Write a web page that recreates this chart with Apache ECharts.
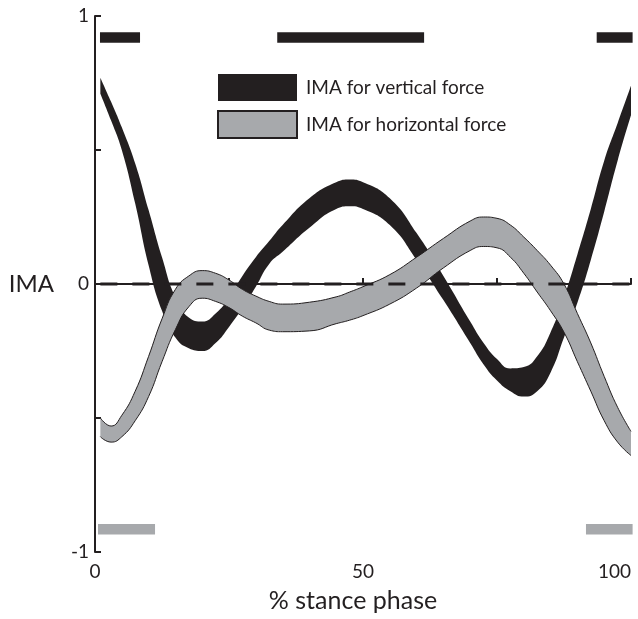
<!DOCTYPE html>
<html>
<head>
<meta charset="utf-8">
<script src="https://cdn.jsdelivr.net/npm/echarts@6/dist/echarts.min.js"></script>
<style>html,body{margin:0;padding:0;background:#fff}#c{width:638px;height:619px}</style>
</head>
<body>
<div id="c"></div>
<script>
// % stance phase sample positions
const stance = [1, 3, 5, 7.5, 10, 12.5, 15, 17.5, 20, 22.5, 25, 27.5, 30, 32.5, 35, 40, 45, 47.5, 50, 55, 60, 65, 70, 72.5, 75, 77.5, 80, 82.5, 85, 87.5, 90, 92.5, 95, 97.5, 100];
// IMA for vertical force: band upper / lower edges
const vertUpper = [0.77, 0.68, 0.585, 0.45, 0.276, 0.10, -0.05, -0.125, -0.14, -0.11, -0.05, 0.03, 0.10, 0.16, 0.22, 0.32, 0.38, 0.39, 0.38, 0.32, 0.19, 0.03, -0.14, -0.22, -0.28, -0.315, -0.31, -0.27, -0.18, -0.05, 0.11, 0.28, 0.46, 0.60, 0.74];
const vertLower = [0.71, 0.61, 0.50, 0.30, 0.07, -0.10, -0.20, -0.24, -0.25, -0.22, -0.16, -0.09, -0.01, 0.075, 0.12, 0.21, 0.28, 0.29, 0.28, 0.22, 0.09, -0.06, -0.22, -0.30, -0.36, -0.40, -0.42, -0.40, -0.33, -0.20, -0.07, 0.09, 0.27, 0.46, 0.63];
// IMA for horizontal force: band upper / lower edges
const horzUpper = [-0.50, -0.53, -0.49, -0.40, -0.27, -0.13, -0.02, 0.03, 0.05, 0.04, 0.015, -0.02, -0.045, -0.065, -0.075, -0.068, -0.048, -0.03, -0.01, 0.035, 0.10, 0.17, 0.235, 0.25, 0.245, 0.22, 0.175, 0.125, 0.07, 0.0, -0.11, -0.22, -0.345, -0.46, -0.55];
const horzLower = [-0.57, -0.59, -0.57, -0.51, -0.42, -0.29, -0.17, -0.085, -0.053, -0.065, -0.088, -0.12, -0.145, -0.172, -0.178, -0.175, -0.148, -0.135, -0.118, -0.075, -0.015, 0.06, 0.125, 0.14, 0.135, 0.10, 0.04, -0.03, -0.10, -0.18, -0.29, -0.40, -0.51, -0.59, -0.64];
// significance bars [start, end]
const vertBars = [[0.93, 8.4], [34.0, 61.4], [93.6, 100.3]];
const vertBarLevel = 0.92;
const horzBars = [[0.56, 11.2], [91.6, 100.3]];
const horzBarLevel = -0.915;
// axis tick labels
const xTickLabels = {0: '0', 50: '50', 100: '100'};
const yTickLabels = {1: '1', 0: '0', '-1': '-1'};
const zeroLine = [[1, 0], [100, 0]];

const INK = '#231f20';
const GREY = '#a7a9ac';
const FONT = 'Lato';

// column 0 = IMA value (stacked), column 1 = % stance
function lowCol(lo) { return stance.map((x, i) => [lo[i], x]); }
function widthCol(up, lo) { return stance.map((x, i) => [+(up[i] - lo[i]).toFixed(4), x]); }

function barRender(color) {
  return function (params, api) {
    const s = api.coord([api.value(0), api.value(2)]);
    const e = api.coord([api.value(1), api.value(2)]);
    const h = 10.5;
    return { type: 'rect', shape: { x: s[0], y: s[1] - h / 2, width: e[0] - s[0], height: h }, style: { fill: color } };
  };
}

const bandCommon = { type: 'line', smooth: true, symbol: 'none', stackStrategy: 'all', encode: { x: 1, y: 0 }, silent: true };

const chart = echarts.init(document.getElementById('c'), null, { renderer: 'canvas' });
chart.setOption({
  animation: false,
  backgroundColor: '#fff',
  grid: { left: 95, right: 7, top: 16, bottom: 67, containLabel: false, outerBoundsMode: 'none' },
  legend: {
    orient: 'vertical', left: 217, top: 74, padding: 0,
    itemWidth: 79, itemGap: 9, itemHeight: 27,
    textStyle: { fontFamily: FONT, fontSize: 19, color: INK, padding: [0, 0, 0, 4] },
    data: [
      { name: 'IMA for vertical force', icon: 'rect' },
      { name: 'IMA for horizontal force', icon: 'rect' }
    ]
  },
  xAxis: {
    type: 'value', min: 0, max: 100, interval: 25,
    name: '% stance phase', nameLocation: 'middle', nameGap: 36,
    nameTextStyle: { fontFamily: FONT, fontSize: 25, color: INK, padding: [0, 20, 0, 0] },
    axisLine: { lineStyle: { color: INK, width: 2 } },
    axisTick: { inside: true, length: 6, lineStyle: { color: INK, width: 2 } },
    axisLabel: { fontFamily: FONT, fontSize: 19, color: INK, margin: 10, alignMaxLabel: 'right',
      formatter: v => xTickLabels[v] || '' },
    splitLine: { show: false }
  },
  yAxis: {
    type: 'value', min: -1, max: 1, interval: 0.5,
    name: 'IMA', nameLocation: 'middle', nameGap: 41, nameRotate: 0,
    nameTextStyle: { fontFamily: FONT, fontSize: 24, color: INK },
    axisLine: { lineStyle: { color: INK, width: 2 } },
    axisTick: { inside: true, length: 6, lineStyle: { color: INK, width: 2 } },
    axisLabel: { fontFamily: FONT, fontSize: 19, color: INK, margin: 6, formatter: v => yTickLabels[String(v)] || '' },
    splitLine: { show: false }
  },
  series: [
    Object.assign({}, bandCommon, { name: 'vertLow', stack: 'v', data: lowCol(vertLower),
      lineStyle: { width: 0 }, z: 2 }),
    Object.assign({}, bandCommon, { name: 'vertBand', stack: 'v', data: widthCol(vertUpper, vertLower),
      lineStyle: { width: 0, color: INK }, areaStyle: { color: INK, opacity: 1 }, z: 2 }),
    Object.assign({}, bandCommon, { name: 'horzLow', stack: 'h', data: lowCol(horzLower),
      lineStyle: { width: 1, color: INK }, z: 3 }),
    Object.assign({}, bandCommon, { name: 'horzBand', stack: 'h', data: widthCol(horzUpper, horzLower),
      lineStyle: { width: 1, color: INK }, areaStyle: { color: GREY, opacity: 1 }, z: 3 }),
    // legend-only entries
    { name: 'IMA for vertical force', type: 'bar', data: [], itemStyle: { color: INK } },
    { name: 'IMA for horizontal force', type: 'bar', data: [], itemStyle: { color: GREY, borderColor: INK, borderWidth: 1 } },
    { name: 'zero', type: 'line', symbol: 'none', data: zeroLine, z: 5, silent: true,
      lineStyle: { color: INK, width: 3, type: [17, 15] } },
    { name: 'vertBars', type: 'custom', clip: false, renderItem: barRender(INK), encode: { x: [0, 1], y: 2 },
      data: vertBars.map(b => [b[0], b[1], vertBarLevel]), z: 4, silent: true },
    { name: 'horzBars', type: 'custom', clip: false, renderItem: barRender(GREY), encode: { x: [0, 1], y: 2 },
      data: horzBars.map(b => [b[0], b[1], horzBarLevel]), z: 4, silent: true }
  ]
});
</script>
</body>
</html>
